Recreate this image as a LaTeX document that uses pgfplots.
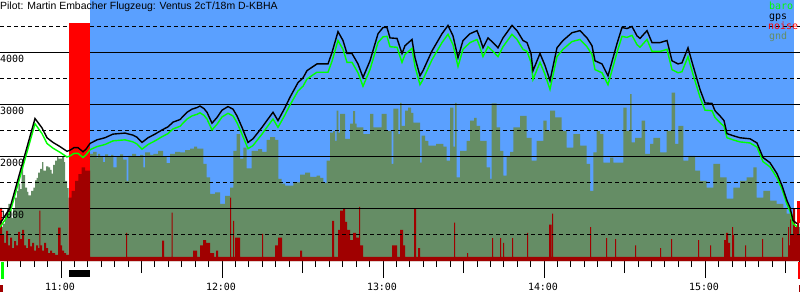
\documentclass[border=0pt]{standalone}
\usepackage{pgfplots}
\pgfplotsset{compat=1.18}
\usepackage{fontspec}
\setmainfont{Liberation Sans}
\newfontfamily\mono{DejaVu Sans Mono}
\definecolor{bgblue}{RGB}{90,160,255}
\definecolor{gndcol}{RGB}{101,141,101}
\definecolor{noisecol}{RGB}{160,0,0}
\definecolor{barogreen}{RGB}{0,255,0}
\begin{document}
\begin{tikzpicture}
\useasboundingbox (0,-39bp) rectangle (800bp,261bp);
\begin{axis}[at={(0,0)}, anchor=south west, scale only axis,
  width=800bp, height=261bp,
  xmin=0, xmax=800, ymin=0, ymax=5019, clip=false,
  axis line style={draw=none}, ytick=\empty,
  xtick={61,222,383,544,705}, xticklabels={},
  minor xtick={7.33,20.75,...,800},
  extra x ticks={141.5,302.5,463.5,624.5,785.5}, extra x tick labels={},
  extra x tick style={major tick length=12bp},
  major tick length=17bp, minor tick length=6bp, tick align=outside,
  xtick pos=left, tick style={black, line width=1bp}]

% backgrounds
\fill[bgblue] (axis cs:90,0) rectangle (axis cs:794,5019);
\fill[red] (axis cs:68.5,0) rectangle (axis cs:90,4570);

% ground
\addplot[fill=gndcol, draw=none, const plot] coordinates {
(0,650) (3,720) (5,910) (7,1000) (8.3,1100) (10,980) (11.7,830) (13,1000) (15,1220) (17,1350)
(18.3,1490) (20,1380) (21.7,1800) (23,1650) (25,1410) (27,1330) (28.3,1260) (31,1350) (33.3,1410)
(35,1550) (36.7,1600) (38,1700) (40,1770) (42,1900) (43.3,1740) (46,1820) (48.3,1800) (50,1750)
(51.7,1680) (53,1850) (55,1930) (57,2000) (58.3,1970) (62,2000) (64,1900) (65,1540) (67,1400)
(68.5,0) (90,2060) (93,2100) (96.7,1990) (98,2060) (100,2020) (103,1900) (105,2050) (108,2000)
(111,2040) (113.3,1800) (116.7,2000) (120,2050) (123,1950) (126.7,1540) (128.3,2020) (132,2060)
(136,2000) (140,2040) (143.3,1800) (145,2090) (150,2040) (153.3,2060) (158,2120) (163,2000)
(166.7,1880) (170,2060) (175,2100) (180,2090) (185,2130) (190,2160) (194,2200) (197,2160)
(200,2160) (203.3,1870) (206.7,1610) (210,1290) (215,1320) (220,1100) (225,1250) (230,1410)
(233.3,2120) (236.7,2440) (240,1970) (243.3,2180) (246.7,1780) (251.7,2120) (258,2150) (262,2100)
(266.7,2330) (270,2380) (275,2330) (278.3,1580) (281.7,1490) (285,1450) (293.3,1510) (300,1660)
(305,1700) (310,1620) (316.7,1640) (320,1600) (323.3,1500) (326.7,1930) (330,2470) (333,2500)
(335,2310) (336.7,2890) (338.3,2470) (340,2830) (345,2350) (350,2640) (353,2880) (355,2640)
(356.7,2570) (363.3,2440) (370,2830) (373.3,2570) (381.7,2830) (386.7,2500) (391.7,1870)
(393.3,2930) (398.3,2440) (400,3040) (401.7,2600) (405,2890) (408,2950) (411,2850) (413.3,2660)
(420,1890) (421.7,2410) (425,2310) (428.3,2220) (436,2250) (443.3,2200) (446.7,1930) (450,2950)
(453.3,2200) (455,3040) (456.7,1610) (460,2120) (466.7,2310) (470,2700) (474,2750) (476.7,2600)
(480,2310) (486.7,1800) (490,1580) (491.7,3030) (496.7,2570) (500,2120) (503.3,1640) (506.7,2020)
(510,2100) (513.3,2570) (520,2790) (526.7,2370) (531.7,1930) (536.7,2310) (543.3,2700) (546.7,2500)
(550,2890) (555,2760) (561.7,2500) (566.7,2180) (573.3,2440) (580,2220) (586.7,1870) (590,1350)
(593.3,2090) (596.7,2500) (600,2440) (603.3,1890) (610,1990) (613.3,1890) (623.3,2950) (626.7,2500)
(630,3210) (631.7,2280) (635,2370) (641.7,2700) (645,2060) (650,2250) (653.3,2370) (660,2090)
(666.7,2500) (671.7,3240) (675,2250) (678.3,2600) (683.3,1930) (688.3,2020) (695,1740) (700,1540)
(706.7,1410) (713.3,1870) (720,1610) (726.7,1200) (733.3,1410) (740,1540) (746.7,1610) (753.3,1800)
(756.7,1220) (763.3,1350) (770,1160) (776.7,1100) (783.3,1010) (786.7,910) (793.3,650) (800,650)
} \closedcycle;

% noise
\addplot[fill=noisecol, draw=none, const plot] coordinates {
(0,1020) (2,500) (4,350) (6,580) (8,300) (10,450) (12,250) (14,380) (16,300) (18,560) (20,420)
(22,600) (24,300) (26,250) (28,420) (30,280) (32,350) (34,200) (36,300) (38,250) (39.3,970)
(40.3,300) (42,200) (44,350) (46,250) (48,150) (50,200) (52,150) (55,120) (58,640) (60.5,300)
(62,200) (64,150) (66,120) (68.5,1220) (71.7,1350) (75,1540) (78.3,1670) (81.7,1800) (85,1740)
(90,80) (126,540) (127,80) (162,390) (164,80) (171.7,930) (172.7,80) (193,200) (197,80) (200,300)
(203,400) (206,350) (210,150) (214,80) (216,200) (218,80) (230,1220) (231,80) (233,770) (234,80)
(235,450) (240,80) (262,520) (263,80) (275,300) (278,450) (282,80) (300,200) (302,80) (332,770)
(334,80) (338,600) (340,970) (343,1000) (345,750) (347,600) (350,400) (353,540) (356,450)
(359,1040) (360,300) (363,80) (392,300) (397,80) (400,600) (403,300) (405,80) (414,1000) (416,80)
(418,250) (420,80) (454,740) (455,80) (467,150) (468,80) (492,440) (493,80) (500,440) (501,80)
(503,350) (504,80) (512,440) (513,80) (527,540) (528,80) (549,700) (551.5,80) (552,910) (553,80)
(590,650) (591,80) (606,440) (607,80) (615,420) (616,80) (635,300) (636,80) (660,250) (661,80)
(671,420) (672,80) (698,400) (699,80) (710,300) (711,80) (724,400) (726,540) (728,350) (730,80)
(732,650) (733,500) (734,80) (745,300) (746,80) (762,420) (763,80) (782,450) (783,80) (788,650)
(789,300) (790,800) (791,500) (793,1000) (795,650) (797,900) (799,500) (800,500)
} \closedcycle;
\fill[red] (axis cs:0,780) rectangle (axis cs:1.7,1020);
\fill[red] (axis cs:797,740) rectangle (axis cs:800,1160);

% grid
\pgfplotsinvokeforeach{1000,2000,3000,4000}{
  \draw[black, line width=1bp] (axis cs:0,#1) -- (axis cs:68.5,#1);
  \draw[black, line width=1bp] (axis cs:90,#1) -- (axis cs:800,#1);
}
\pgfplotsinvokeforeach{500,1500,2500,3500,4500}{
  \draw[black, line width=1bp, dash pattern=on 4bp off 3bp] (axis cs:0,#1) -- (axis cs:68.5,#1);
  \draw[black, line width=1bp, dash pattern=on 4bp off 3bp] (axis cs:90,#1) -- (axis cs:800,#1);
}

% baro
\addplot[barogreen, line width=1.4bp, mark=none] coordinates {
(0,650) (10,930) (35,2640) (42,2450) (47,2260) (53,2170) (60,2090) (67,2000) (70,2020) (74,2070)
(78,2070) (83,1990) (86,2040) (90,2140) (97,2200) (105,2240) (113,2310) (125,2330) (133,2290)
(137,2250) (142,2150) (148,2240) (155,2310) (162,2390) (168,2450) (173,2540) (180,2590) (187,2730)
(192,2790) (197,2820) (200,2850) (204,2800) (207,2730) (212,2520) (217,2630) (222,2770) (228,2840)
(233,2790) (237,2660) (242,2440) (248,2160) (253,2220) (262,2440) (268,2600) (273,2730) (278,2570)
(285,2810) (290,3000) (298,3270) (303,3360) (307,3500) (310,3540) (317,3630) (328,3630) (332,3840)
(338,4240) (343,4070) (347,3820) (352,3820) (358,3620) (363,3360) (370,3680) (378,4200) (383,4310)
(387,4320) (390,4120) (397,4110) (402,3820) (405,3970) (412,4090) (415,3740) (420,3390) (423,3490)
(432,3870) (442,4200) (448,4360) (453,4160) (458,3740) (463,4070) (470,4200) (477,4260) (480,4110)
(483,3930) (488,4120) (493,4030) (498,3930) (503,4120) (512,4360) (517,4260) (523,4070) (527,4030)
(531,3820) (533,3490) (540,3820) (545,3590) (550,3300) (557,3930) (563,4070) (572,4220) (580,4260)
(587,4120) (592,3970) (595,3680) (602,3620) (608,3390) (617,4010) (622,4320) (627,4300) (632,4340)
(637,4160) (640,4110) (647,4260) (652,4030) (660,4030) (667,4070) (672,3680) (678,3620) (682,3640)
(688,3930) (693,3590) (700,3150) (705,2900) (712,2890) (715,2760) (720,2660) (724,2590) (727,2370)
(733,2330) (740,2290) (750,2270) (757,2190) (763,1910) (770,1810) (777,1600) (782,1380) (787,1090)
(790,960) (793,720) (797,660)
};

% gps
\addplot[black, line width=1.4bp, mark=none] coordinates {
(0,720) (10,1020) (35,2740) (42,2560) (47,2370) (53,2280) (60,2200) (67,2110) (70,2130) (74,2180)
(78,2180) (83,2100) (86,2150) (90,2260) (97,2330) (105,2370) (113,2440) (125,2460) (133,2420)
(137,2380) (142,2280) (148,2370) (155,2440) (162,2520) (168,2580) (173,2670) (180,2720) (187,2860)
(192,2920) (197,2950) (200,2980) (204,2930) (207,2860) (212,2650) (217,2760) (222,2900) (228,2970)
(233,2920) (237,2790) (242,2570) (248,2280) (253,2350) (262,2570) (268,2730) (273,2860) (278,2700)
(285,2950) (290,3150) (298,3430) (303,3520) (307,3660) (310,3700) (317,3790) (328,3790) (332,4010)
(338,4410) (343,4240) (347,3990) (352,3990) (358,3790) (363,3530) (370,3850) (378,4370) (383,4490)
(387,4490) (390,4290) (397,4280) (402,3990) (405,4140) (412,4260) (415,3910) (420,3560) (423,3660)
(432,4040) (442,4370) (448,4530) (453,4330) (458,3910) (463,4240) (470,4370) (477,4430) (480,4280)
(483,4100) (488,4290) (493,4200) (498,4100) (503,4290) (512,4530) (517,4430) (523,4240) (527,4200)
(531,3990) (533,3660) (540,3990) (545,3760) (550,3470) (557,4100) (563,4240) (572,4390) (580,4430)
(587,4290) (592,4140) (595,3850) (602,3790) (608,3560) (617,4180) (622,4490) (627,4470) (632,4510)
(637,4330) (640,4280) (647,4430) (652,4200) (660,4200) (667,4240) (672,3850) (678,3790) (682,3810)
(688,4100) (693,3760) (700,3300) (705,3040) (712,3030) (715,2890) (720,2790) (724,2700) (727,2450)
(733,2410) (740,2370) (750,2350) (757,2270) (763,1990) (770,1890) (777,1680) (782,1450) (787,1160)
(790,1030) (793,780) (797,720)
};

% texts
\node[anchor=base west, inner sep=0pt, yshift=-10bp, font=\fontsize{10.5}{12}\selectfont]
  at (rel axis cs:0,1) {Pilot: Martin Embacher Flugzeug: Ventus 2cT/18m D-KBHA};
\pgfplotsinvokeforeach{1000,2000,3000,4000}{
  \node[anchor=base west, inner sep=0pt, yshift=-10bp, font=\mono\fontsize{10}{12}\selectfont]
    at (axis cs:0,#1) {#1};
}
\node[anchor=base, inner sep=0pt, yshift=-29bp, font=\mono\fontsize{10}{12}\selectfont] at (axis cs:60,0) {11:00};
\node[anchor=base, inner sep=0pt, yshift=-29bp, font=\mono\fontsize{10}{12}\selectfont] at (axis cs:221,0) {12:00};
\node[anchor=base, inner sep=0pt, yshift=-29bp, font=\mono\fontsize{10}{12}\selectfont] at (axis cs:382,0) {13:00};
\node[anchor=base, inner sep=0pt, yshift=-29bp, font=\mono\fontsize{10}{12}\selectfont] at (axis cs:543,0) {14:00};
\node[anchor=base, inner sep=0pt, yshift=-29bp, font=\mono\fontsize{10}{12}\selectfont] at (axis cs:704,0) {15:00};
% legend
\node[anchor=base west, inner sep=0pt, yshift=-10bp, text=barogreen, font=\mono\fontsize{10}{12}\selectfont] at (axis cs:769,5019) {baro};
\node[anchor=base west, inner sep=0pt, yshift=-19.7bp, text=black, font=\mono\fontsize{10}{12}\selectfont] at (axis cs:769,5019) {gps};
\node[anchor=base west, inner sep=0pt, yshift=-30bp, text=red, font=\mono\fontsize{10}{12}\selectfont] at (axis cs:768,5019) {noise};
\node[anchor=base west, inner sep=0pt, yshift=-39.5bp, text=gndcol, font=\mono\fontsize{10}{12}\selectfont] at (axis cs:769,5019) {gnd};

% markers below the axis
\fill[barogreen] (axis cs:1,-19) rectangle (axis cs:4,-346);
\fill[noisecol] (axis cs:0,-462) rectangle (axis cs:3.3,-596);
\fill[black] (axis cs:69,-173) rectangle (axis cs:90,-308);
\fill[red] (axis cs:797.7,-19) rectangle (axis cs:800,-346);
\fill[noisecol] (axis cs:798.7,-462) rectangle (axis cs:800,-596);
\end{axis}
\end{tikzpicture}
\end{document}
